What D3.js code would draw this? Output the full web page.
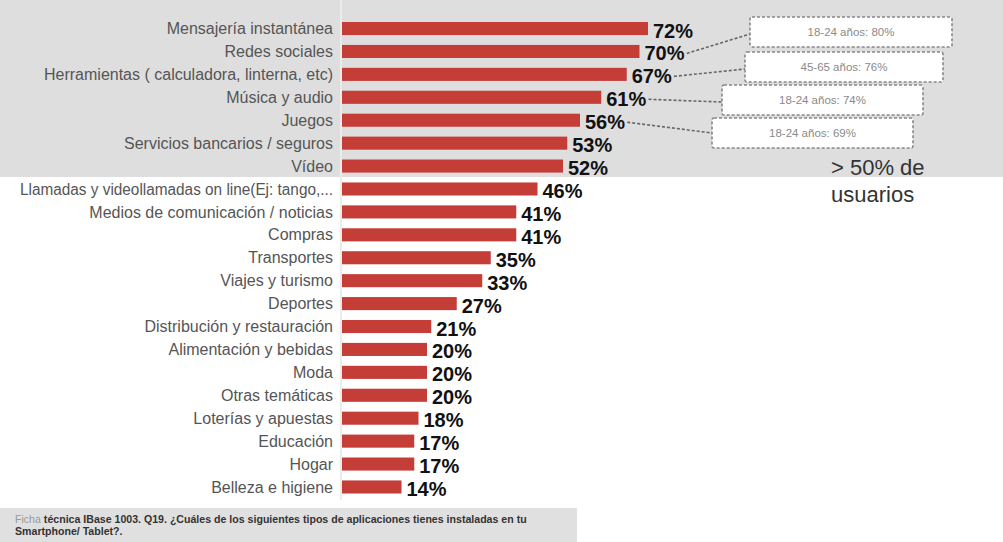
<!DOCTYPE html>
<html>
<head>
<meta charset="utf-8">
<script src="https://cdn.jsdelivr.net/npm/d3@7"></script>
<style>
  body { margin: 0; background: #fff; }
  svg { display: block; font-family: "Liberation Sans", Arial, sans-serif; }
</style>
</head>
<body>
<svg id="chart" width="1003" height="542"></svg>
<script>
const categories = [
  "Mensajería instantánea", "Redes sociales", "Herramientas ( calculadora, linterna, etc)",
  "Música y audio", "Juegos", "Servicios bancarios / seguros", "Vídeo",
  "Llamadas y videollamadas on line(Ej: tango,...", "Medios de comunicación / noticias",
  "Compras", "Transportes", "Viajes y turismo", "Deportes", "Distribución y restauración",
  "Alimentación y bebidas", "Moda", "Otras temáticas", "Loterías y apuestas",
  "Educación", "Hogar", "Belleza e higiene"
];
const values = [72, 70, 67, 61, 56, 53, 52, 46, 41, 41, 35, 33, 27, 21, 20, 20, 20, 18, 17, 17, 14];

// notes attached to some bars
const calloutCategories = ["Redes sociales", "Herramientas ( calculadora, linterna, etc)", "Música y audio", "Juegos"];
const calloutTexts = ["18-24 años: 80%", "45-65 años: 76%", "18-24 años: 74%", "18-24 años: 69%"];

const highlightText = ["> 50% de", "usuarios"];
const footnote = ["técnica IBase 1003. Q19. ¿Cuáles de los siguientes tipos de aplicaciones tienes instaladas en tu", "Smartphone/ Tablet?."];

const svg = d3.select("#chart");

const x = d3.scaleLinear().domain([0, 72]).range([342, 648]);
const y = d3.scaleBand().domain(categories).range([22, 493.5]).paddingInner(0.43).paddingOuter(0);

// grey band behind the >50% group
svg.append("rect")
  .attr("x", 0).attr("y", 0)
  .attr("width", 1003).attr("height", 177)
  .attr("fill", "#dedede");

// faint axis line
svg.append("line")
  .attr("x1", x(0) - 1).attr("x2", x(0) - 1)
  .attr("y1", 0).attr("y2", 500)
  .attr("stroke", "#ececec").attr("stroke-width", 2);

const rows = svg.append("g").selectAll("g")
  .data(categories)
  .enter().append("g");

rows.append("rect")
  .attr("x", x(0))
  .attr("y", d => y(d))
  .attr("width", (d, i) => x(values[i]) - x(0))
  .attr("height", y.bandwidth())
  .attr("fill", "#c43d37");

rows.append("text")
  .attr("x", 333)
  .attr("y", d => y(d) + y.bandwidth() / 2)
  .attr("dy", "0.35em")
  .attr("text-anchor", "end")
  .style("font-size", "16px")
  .style("fill", "#555")
  .text(d => d)
  .each(function() {
    // the long label is a bit tighter in the original
    if (this.getComputedTextLength() > 315) {
      d3.select(this).attr("textLength", 313).attr("lengthAdjust", "spacingAndGlyphs");
    }
  });

const valueLabels = rows.append("text")
  .attr("class", "value")
  .attr("x", (d, i) => x(values[i]) + 5)
  .attr("y", d => y(d) + y.bandwidth() / 2 + 2)
  .attr("dy", "0.35em")
  .style("font-size", "20px")
  .style("font-weight", "bold")
  .style("fill", "#111")
  .text((d, i) => values[i] + "%");

// callout boxes (left x, top y, width)
const boxes = [[750, 17, 202], [745, 52, 198], [722, 85, 201], [712, 118, 201]];
const boxH = 30;
calloutCategories.forEach((cat, k) => {
  const node = valueLabels.filter(d => d === cat).node();
  const bb = node.getBBox();
  const [bx, by, bw] = boxes[k];
  const g = svg.append("g");
  g.append("line")
    .attr("x1", bb.x + bb.width + 2)
    .attr("y1", y(cat) + y.bandwidth() / 2 + 2)
    .attr("x2", bx)
    .attr("y2", by + boxH / 2 + (k === 3 ? 0 : 2))
    .attr("stroke", "#666")
    .attr("stroke-width", 1.6)
    .attr("stroke-dasharray", "3,2");
  g.append("rect")
    .attr("x", bx).attr("y", by)
    .attr("width", bw).attr("height", boxH)
    .attr("rx", 2)
    .attr("fill", "#fff")
    .attr("stroke", "#888")
    .attr("stroke-width", 1.6)
    .attr("stroke-dasharray", "3,2");
  g.append("text")
    .attr("x", bx + bw / 2)
    .attr("y", by + boxH / 2)
    .attr("dy", "0.35em")
    .attr("text-anchor", "middle")
    .style("font-size", "11.5px")
    .style("fill", "#8a8a8a")
    .text(calloutTexts[k]);
});

svg.append("text")
  .attr("x", 831).attr("y", 175)
  .style("font-size", "22px")
  .style("fill", "#333")
  .selectAll("tspan")
  .data(highlightText)
  .enter().append("tspan")
  .attr("x", 831)
  .attr("dy", (d, i) => i === 0 ? 0 : 27)
  .text(d => d);

// footnote
svg.append("rect")
  .attr("x", 0).attr("y", 508)
  .attr("width", 577).attr("height", 34)
  .attr("fill", "#e0e0e0");

const foot = svg.append("text")
  .attr("x", 15).attr("y", 523)
  .style("font-size", "10.6px")
  .style("font-weight", "bold")
  .style("fill", "#333");
foot.append("tspan").style("fill", "#999").style("font-weight", "normal").text("Ficha ");
foot.append("tspan").text(footnote[0]);
svg.append("text")
  .attr("x", 15).attr("y", 535)
  .style("font-size", "10.6px")
  .style("font-weight", "bold")
  .style("fill", "#333")
  .text(footnote[1]);
</script>
</body>
</html>
